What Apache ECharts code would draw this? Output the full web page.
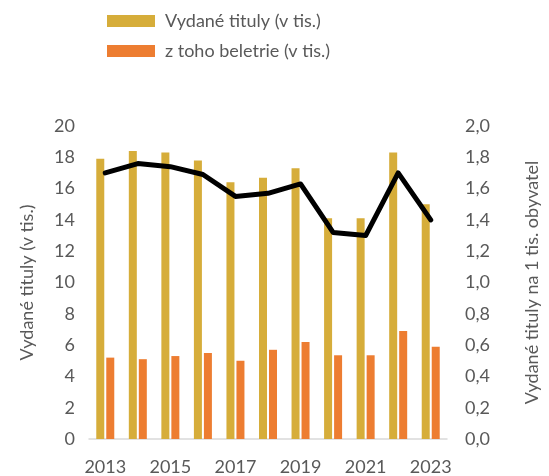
<!DOCTYPE html>
<html>
<head>
<meta charset="utf-8">
<script src="https://cdn.jsdelivr.net/npm/echarts@6/dist/echarts.min.js"></script>
<style>
    html, body { margin: 0; padding: 0; background: #fff; }
    #chart { width: 549px; height: 476px; }
</style>
</head>
<body>
<div id="chart"></div>
<script>
    const years = ['2013', '2014', '2015', '2016', '2017', '2018', '2019', '2020', '2021', '2022', '2023'];
    const tituly = [17.9, 18.4, 18.3, 17.8, 16.4, 16.7, 17.3, 14.1, 14.1, 18.3, 15.0];
    const beletrie = [5.2, 5.1, 5.3, 5.5, 5.0, 5.7, 6.2, 5.35, 5.35, 6.9, 5.9];
    const naTisObyv = [1.70, 1.76, 1.74, 1.69, 1.55, 1.57, 1.63, 1.32, 1.30, 1.70, 1.40];

    const textColor = '#595959';
    const font = 'Lato';

    const chart = echarts.init(document.getElementById('chart'));
    const option = {
        animation: false,
        textStyle: { fontFamily: font },
        legend: {
            orient: 'vertical',
            left: 102,
            top: 6,
            itemWidth: 48,
            itemHeight: 12,
            itemGap: 10,
            icon: 'rect',
            data: ['Vydané tituly (v tis.)', 'z toho beletrie (v tis.)'],
            textStyle: {
                color: textColor,
                fontSize: 18,
                fontFamily: font,
                lineHeight: 20,
                padding: [0, 0, 0, 5]
            }
        },
        grid: {
            left: 89,
            right: 87,
            top: 126,
            bottom: 36,
            containLabel: false
        },
        xAxis: {
            type: 'category',
            data: years,
            axisLine: { lineStyle: { color: '#d9d9d9', width: 1.5 } },
            axisTick: { show: false },
            axisLabel: {
                interval: 1,
                color: textColor,
                fontSize: 18,
                margin: 19
            }
        },
        yAxis: [
            {
                type: 'value',
                min: 0,
                max: 20,
                interval: 2,
                name: 'Vydané tituly (v tis.)',
                nameLocation: 'middle',
                nameGap: 53,
                nameTextStyle: { color: textColor, fontSize: 18 },
                splitLine: { show: false },
                axisLine: { show: false },
                axisTick: { show: false },
                axisLabel: { color: textColor, fontSize: 18, margin: 14 }
            },
            {
                type: 'value',
                min: 0,
                max: 2,
                interval: 0.2,
                name: 'Vydané tituly na 1 tis. obyvatel',
                nameLocation: 'middle',
                nameGap: 76,
                nameRotate: 90,
                nameTextStyle: { color: textColor, fontSize: 18 },
                splitLine: { show: false },
                axisLine: { show: false },
                axisTick: { show: false },
                axisLabel: {
                    color: textColor,
                    fontSize: 18,
                    margin: 18,
                    formatter: (v) => v.toFixed(1).replace('.', ',')
                }
            }
        ],
        series: [
            {
                name: 'Vydané tituly (v tis.)',
                type: 'bar',
                data: tituly,
                barWidth: 8,
                barGap: '25%',
                itemStyle: { color: '#D6AD3A' }
            },
            {
                name: 'z toho beletrie (v tis.)',
                type: 'bar',
                data: beletrie,
                barWidth: 8,
                itemStyle: { color: '#ED7D31' }
            },
            {
                name: 'Vydané tituly na 1 tis. obyvatel',
                type: 'line',
                yAxisIndex: 1,
                data: naTisObyv,
                symbol: 'none',
                lineStyle: { color: '#000', width: 5, join: 'round', cap: 'round' },
                z: 5
            }
        ]
    };
    chart.setOption(option);
</script>
</body>
</html>
